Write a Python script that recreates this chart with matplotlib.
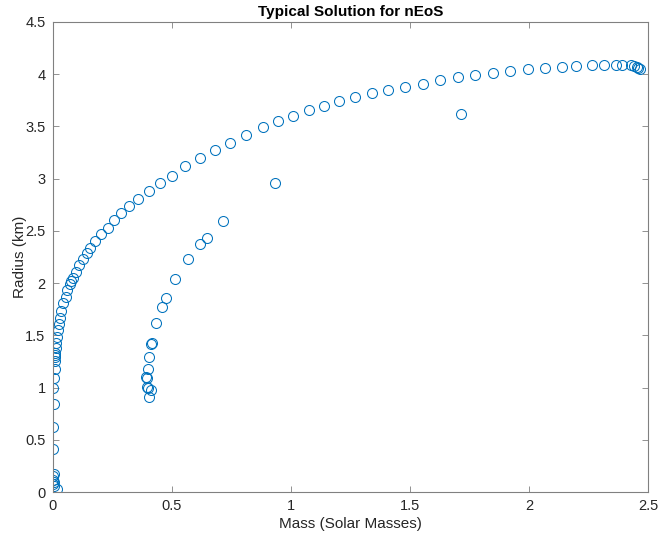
import matplotlib
matplotlib.use("Agg")
import matplotlib.pyplot as plt

plt.rcParams['font.family'] = ['Liberation Sans', 'DejaVu Sans']

# main branch (mass in solar masses, radius in km)
mass_main = [0.020, 0.006, 0.004, 0.005, 0.003, 0.004, 0.005,
             0.003, 0.004, 0.006, 0.004, 0.007, 0.010, 0.011, 0.012, 0.011,
             0.012, 0.013, 0.016, 0.018, 0.023, 0.027, 0.033, 0.037, 0.044,
             0.055, 0.062, 0.073, 0.079, 0.087, 0.099, 0.111, 0.128, 0.146,
             0.157, 0.177, 0.203, 0.231, 0.258, 0.289, 0.322, 0.361, 0.403,
             0.452, 0.500, 0.558, 0.618, 0.683, 0.747, 0.814, 0.883, 0.948,
             1.010, 1.075, 1.138, 1.203, 1.271, 1.340, 1.410, 1.481, 1.556,
             1.628, 1.702, 1.773, 1.848, 1.922, 1.998, 2.069, 2.138, 2.199,
             2.263, 2.317, 2.364, 2.391, 2.429, 2.442, 2.452, 2.459, 2.466]
radius_main = [0.03, 0.06, 0.08, 0.10, 0.12, 0.15, 0.17,
               0.41, 0.625, 0.84, 1.00, 1.09, 1.18, 1.25, 1.29, 1.31,
               1.33, 1.38, 1.43, 1.48, 1.55, 1.61, 1.67, 1.73, 1.81,
               1.87, 1.93, 1.99, 2.02, 2.05, 2.11, 2.17, 2.23, 2.29,
               2.34, 2.40, 2.47, 2.53, 2.60, 2.67, 2.74, 2.81, 2.88,
               2.96, 3.03, 3.12, 3.20, 3.27, 3.34, 3.42, 3.49, 3.55,
               3.60, 3.66, 3.70, 3.74, 3.78, 3.82, 3.85, 3.88, 3.91,
               3.94, 3.97, 3.99, 4.01, 4.03, 4.05, 4.06, 4.07, 4.08,
               4.09, 4.09, 4.09, 4.09, 4.09, 4.08, 4.07, 4.06, 4.05]

# second branch and stray points
mass_side = [0.405, 0.412, 0.402, 0.395, 0.398, 0.391, 0.399, 0.406, 0.412,
             0.418, 0.435, 0.458, 0.475, 0.514, 0.569, 0.618, 0.648, 0.714,
             0.932, 1.717]
radius_side = [0.91, 0.98, 1.00, 1.01, 1.09, 1.10, 1.18, 1.29, 1.42,
               1.43, 1.62, 1.77, 1.86, 2.04, 2.23, 2.37, 2.43, 2.59,
               2.96, 3.62]

fig = plt.figure(figsize=(6.58, 5.36), dpi=100)
ax = fig.add_axes([0.0798, 0.082, 0.905, 0.877])

col = '#0072BD'
ax.plot(mass_main + mass_side, radius_main + radius_side, 'o',
        markerfacecolor='none', markeredgecolor=col, markersize=7.2,
        markeredgewidth=0.75)

ax.set_xlim(0, 2.5)
ax.set_ylim(0, 4.5)
ax.set_xticks([0, 0.5, 1, 1.5, 2, 2.5])
ax.set_xticklabels(['0', '0.5', '1', '1.5', '2', '2.5'])
ax.set_yticks([0, 0.5, 1, 1.5, 2, 2.5, 3, 3.5, 4, 4.5])
ax.set_yticklabels(['0', '0.5', '1', '1.5', '2', '2.5', '3', '3.5', '4', '4.5'])

grey = '#262626'
for s in ax.spines.values():
    s.set_color('#808080')
    s.set_linewidth(0.8)
ax.tick_params(direction='in', length=4, width=0.6, colors='#808080',
               labelcolor=grey, labelsize=10.5, top=True, right=True,
               pad=5)
ax.tick_params(top=True, right=True, labeltop=False, labelright=False)

ax.set_xlabel('Mass (Solar Masses)', fontsize=11, color=grey, labelpad=3)
ax.set_ylabel('Radius (km)', fontsize=11, color=grey, labelpad=-1)
ax.set_title('Typical Solution for nEoS', fontsize=11, fontweight='bold',
             color='black', pad=4)

fig.savefig('out.png', dpi=100)
